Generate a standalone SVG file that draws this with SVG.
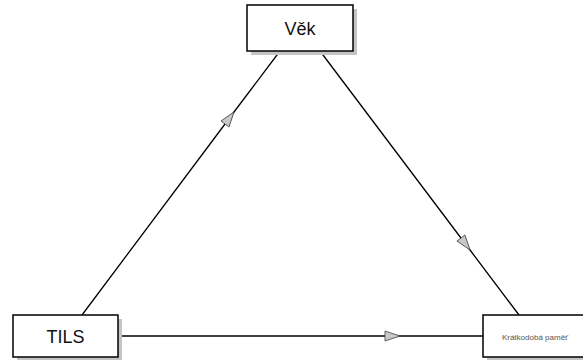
<svg xmlns="http://www.w3.org/2000/svg" width="583" height="360" viewBox="0 0 583 360">
<style>
.shadow{fill:#c4c4c4;stroke:none}
.box{fill:#fff;stroke:#000;stroke-width:1.5}
.lbl{font-family:"Liberation Sans",Arial,sans-serif;fill:#111;text-anchor:middle}
.small{fill:#555}
.edge{fill:none;stroke:#000;stroke-width:1.3;marker-mid:url(#arr)}
</style>
<defs>
<marker id="arr" markerUnits="userSpaceOnUse" markerWidth="18" markerHeight="12" refX="15" refY="5" orient="auto" overflow="visible">
<path d="M0,0 L15,5 L0,10 Z" fill="#c8c8c8" stroke="#444" stroke-width="0.8"/>
</marker>
</defs>
<rect width="583" height="360" fill="#fff"/>
<g id="connectors">
<path class="edge" d="M82,315 L234,112 L280,51"/>
<path class="edge" d="M320,51 L470,250 L519,315"/>
<path class="edge" d="M118,336 L400,336 L483,336"/>
</g>
<g id="vek">
<rect class="shadow" x="251" y="9" width="106" height="46"/>
<rect class="box" x="247" y="5" width="106" height="46"/>
<text class="lbl" x="300" y="35" font-size="18">Věk</text>
</g>
<g id="tils">
<rect class="shadow" x="17" y="319" width="105" height="42"/>
<rect class="box" x="13" y="315" width="105" height="42"/>
<text class="lbl" x="65.5" y="343" font-size="18">TILS</text>
</g>
<g id="kratkodoba">
<rect class="shadow" x="487" y="319" width="110" height="42"/>
<rect class="box" x="483" y="315" width="110" height="42"/>
<text class="lbl small" x="535" y="340" font-size="8">Krátkodobá paměť</text>
</g>
</svg>
